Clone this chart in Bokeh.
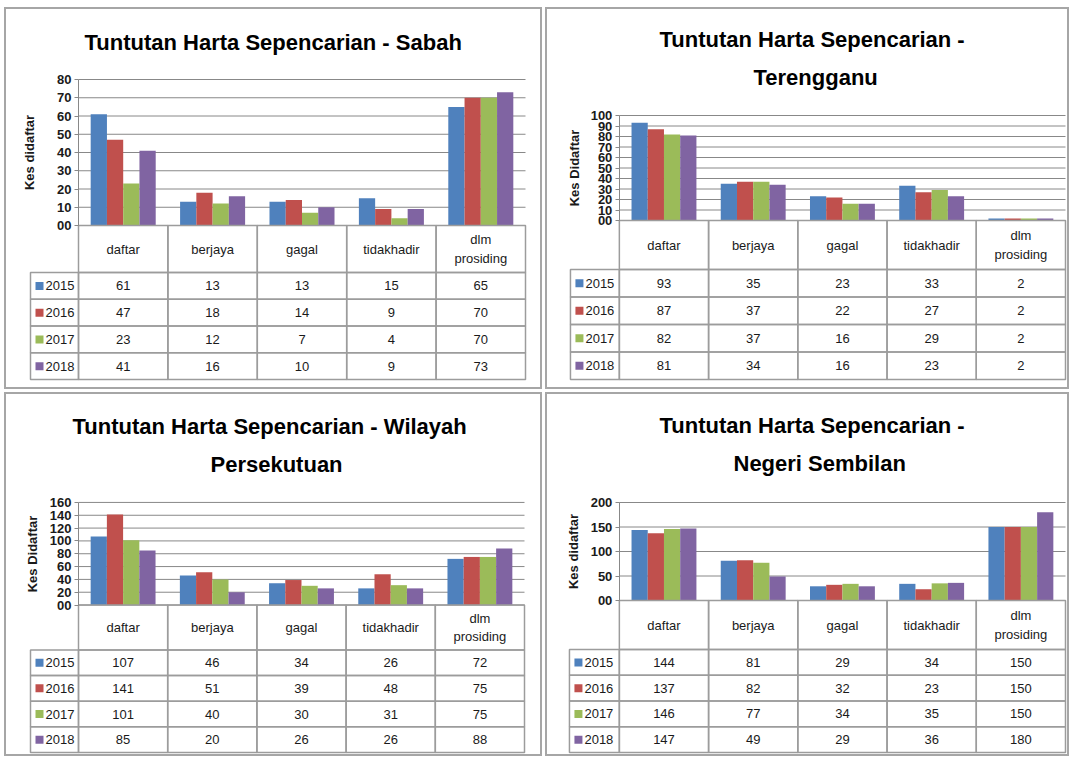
from bokeh.plotting import figure
from bokeh.layouts import column, row
from bokeh.models import Range1d, FixedTicker, Title, Spacer, LinearAxis
from bokeh.core.properties import value
from bokeh.embed import file_html
from bokeh.resources import INLINE

# ---------------- data ----------------
categories = ["daftar", "berjaya", "gagal", "tidakhadir", "dlm\nprosiding"]
years = ["2015", "2016", "2017", "2018"]

sabah_2015 = [61, 13, 13, 15, 65]
sabah_2016 = [47, 18, 14, 9, 70]
sabah_2017 = [23, 12, 7, 4, 70]
sabah_2018 = [41, 16, 10, 9, 73]

terengganu_2015 = [93, 35, 23, 33, 2]
terengganu_2016 = [87, 37, 22, 27, 2]
terengganu_2017 = [82, 37, 16, 29, 2]
terengganu_2018 = [81, 34, 16, 23, 2]

wilayah_2015 = [107, 46, 34, 26, 72]
wilayah_2016 = [141, 51, 39, 48, 75]
wilayah_2017 = [101, 40, 30, 31, 75]
wilayah_2018 = [85, 20, 26, 26, 88]

negeri_2015 = [144, 81, 29, 34, 150]
negeri_2016 = [137, 82, 32, 23, 150]
negeri_2017 = [146, 77, 34, 35, 150]
negeri_2018 = [147, 49, 29, 36, 180]

sabah_ticks = [0, 10, 20, 30, 40, 50, 60, 70, 80]
terengganu_ticks = [0, 10, 20, 30, 40, 50, 60, 70, 80, 90, 100]
wilayah_ticks = [0, 20, 40, 60, 80, 100, 120, 140, 160]
negeri_ticks = [0, 50, 100, 150, 200]

# ---------------- style ----------------
COLORS = ["#4F81BD", "#C0504D", "#9BBB59", "#8064A2"]
B = 2
GRID = "#888888"
CELL = "#9c9c9c"
TXT = "#1a1a1a"
FONT = "Liberation Sans"
TITLE_SIZE = 22
TITLE_H = 24.6
GAP = 3


def panel(box, plot, tbl_left, header_h, row_h, titles, title_so, ylabel, ticks, series,
          label_standoff):
    x0, y0, w, h = box
    l, t, r, b = plot
    cl, ct, cr, cb = x0 + B, y0 + B, x0 + w - B, y0 + h - B
    n = len(categories)
    m = len(years)
    ux = (r - l) / n
    dpp = (ticks[-1] - ticks[0]) / (b - t)
    hw = (l - tbl_left) / ux

    f_top = int(round(titles[-1][2] + title_so / 2 + TITLE_H / 2))
    tbl_bottom = b + header_h + m * row_h
    f_bot = int(round(tbl_bottom + 2))
    p = figure(width=cr - cl, height=cb - ct, title=None,
               x_range=Range1d(-(l - cl) / ux, n + 2 / ux),
               y_range=Range1d(ticks[0] - (f_bot - b) * dpp, ticks[-1] + (t - f_top) * dpp),
               x_axis_location=None, y_axis_location=None,
               output_backend="svg", toolbar_location=None,
               min_border_left=0, min_border_right=cr - r - 2,
               min_border_top=f_top - ct, min_border_bottom=cb - f_bot,
               outline_line_color=None, border_fill_color="white",
               background_fill_color="white")
    p.grid.visible = False

    # gridlines of the plot area (one per tick)
    p.segment(x0=[0] * len(ticks), x1=[n] * len(ticks), y0=ticks, y1=ticks,
              line_color=GRID, line_width=1)

    # bars
    bw = 1.0 / (m + 1.5)
    for k in range(m):
        xs = [i + 0.5 + (k - (m - 1) / 2) * bw for i in range(n)]
        p.vbar(x=xs, bottom=0, top=series[k], width=bw,
               fill_color=COLORS[k], line_color=None)

    # value axis placed on the category start
    ax = LinearAxis(fixed_location=0, ticker=FixedTicker(ticks=ticks),
                    bounds=(ticks[0], ticks[-1]))
    ax.major_label_overrides = {0: "00"}
    ax.axis_label = ylabel
    ax.axis_label_text_font = FONT
    ax.axis_label_text_font_size = "13px"
    ax.axis_label_text_font_style = "bold"
    ax.axis_label_text_color = TXT
    ax.axis_label_standoff = label_standoff
    ax.major_label_text_font = FONT
    ax.major_label_text_font_size = "13px"
    ax.major_label_text_font_style = "bold"
    ax.major_label_text_color = TXT
    ax.major_label_standoff = 3
    ax.major_tick_out = 4
    ax.major_tick_in = 0
    ax.minor_tick_line_color = None
    ax.axis_line_color = GRID
    ax.major_tick_line_color = GRID
    p.add_layout(ax, "left")

    for text, left, _cy in reversed(titles):
        p.add_layout(Title(text=text, align="left", offset=left - cl,
                           text_font=FONT, text_font_size=f"{TITLE_SIZE}px",
                           text_font_style="bold", text_color="#000000",
                           standoff=title_so), "above")

    # data table: header row
    cx = [i + 0.5 for i in range(n)]
    hy = ticks[0] - (header_h / 2) * dpp
    p.rect(x=cx, y=[hy] * n, width=1, height=header_h * dpp,
           fill_color=None, line_color=CELL, line_width=1.5)
    p.text(x=cx, y=[hy] * n, text=categories, text_align="center",
           text_baseline="middle", text_font=value(FONT), text_font_size="13px",
           text_color=TXT, text_line_height=1.25)

    # data table: one row per year
    ys = [ticks[0] - (header_h + (k + 0.5) * row_h) * dpp for k in range(m)]
    for k in range(m):
        p.rect(x=[-hw / 2] + cx, y=[ys[k]] * (n + 1), width=[hw] + [1] * n,
               height=row_h * dpp, fill_color=None, line_color=CELL, line_width=1.5)
        p.text(x=cx, y=[ys[k]] * n, text=[str(v) for v in series[k]],
               text_align="center", text_baseline="middle",
               text_font=value(FONT), text_font_size="13px", text_color=TXT)
    p.scatter(x=[-hw + 9 / ux] * m, y=ys, marker="square", size=8,
              fill_color=COLORS, line_color=None)
    p.text(x=[-hw + 15 / ux] * m, y=ys, text=years, text_align="left",
           text_baseline="middle", text_font=value(FONT), text_font_size="13px",
           text_color=TXT)

    return column(p, styles={"border": f"{B}px solid #a6a6a6",
                             "background-color": "white"})


p1 = panel((4, 7, 538, 382), (78, 79, 525, 225), 30, 47, 26.75,
           [("Tuntutan Harta Sepencarian - Sabah", 84, 42)], 10,
           "Kes didaftar", sabah_ticks,
           [sabah_2015, sabah_2016, sabah_2017, sabah_2018], 17)
p2 = panel((545, 7, 524, 382), (619, 115, 1066, 220), 570, 49, 27.5,
           [("Tuntutan Harta Sepencarian -", 659, 39), ("Terengganu", 753, 77)], 11,
           "Kes Didaftar", terengganu_ticks,
           [terengganu_2015, terengganu_2016, terengganu_2017, terengganu_2018], 6)
p3 = panel((4, 392, 538, 364), (78, 502, 524, 605), 30, 45, 25.75,
           [("Tuntutan Harta Sepencarian - Wilayah", 72, 428), ("Persekutuan", 210, 464)], 11,
           "Kes Didaftar", wilayah_ticks,
           [wilayah_2015, wilayah_2016, wilayah_2017, wilayah_2018], 7)
p4 = panel((545, 392, 524, 364), (619, 502, 1066, 600), 569, 49, 25.75,
           [("Tuntutan Harta Sepencarian -", 659, 427), ("Negeri Sembilan", 733, 463)], 11,
           "Kes didaftar", negeri_ticks,
           [negeri_2015, negeri_2016, negeri_2017, negeri_2018], 7)

layout = column(Spacer(width=1, height=4),
                row(Spacer(width=1, height=1), p1, p2, spacing=GAP),
                row(Spacer(width=1, height=1), p3, p4, spacing=GAP),
                spacing=GAP)
open("out.html", "w").write(file_html(layout, INLINE))
